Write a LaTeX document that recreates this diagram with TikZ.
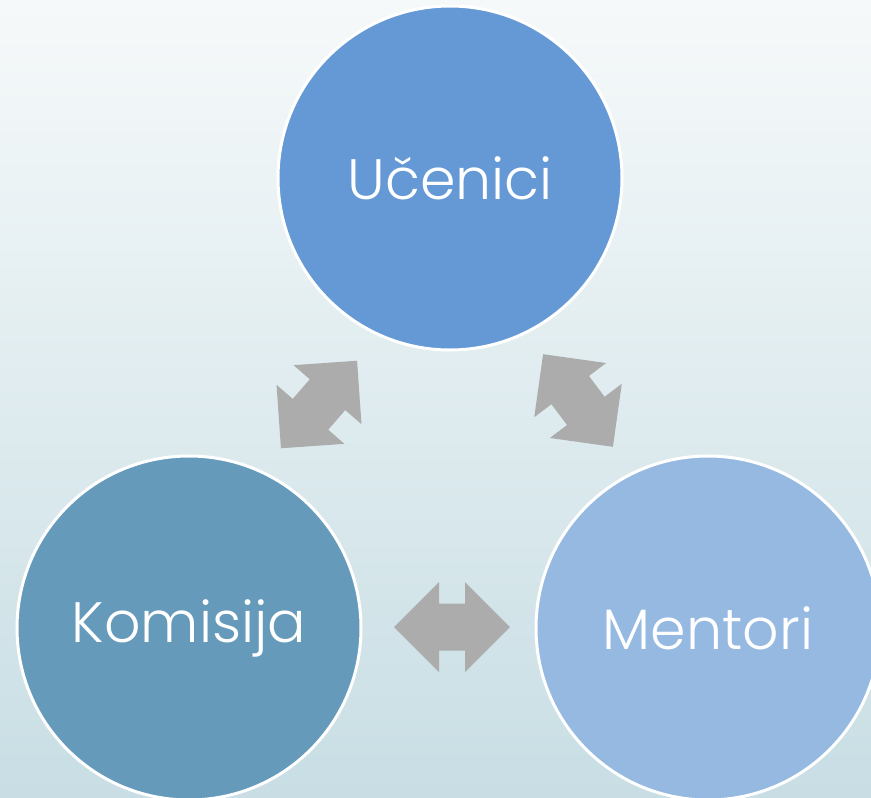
\documentclass[tikz,border=0pt]{standalone}
\usepackage{fontspec}
\newfontfamily\labelfont{Poppins Light}

\definecolor{bgtop}{RGB}{246,249,250}
\definecolor{bgbottom}{RGB}{200,222,228}
\definecolor{ucenicifill}{RGB}{101,153,214}
\definecolor{komisijafill}{RGB}{101,154,187}
\definecolor{mentorifill}{RGB}{150,185,225}
\definecolor{arrowgray}{RGB}{172,172,172}

\tikzset{every picture/.style={line width=0.75pt}}
\tikzset{
  bubble/.style={circle, draw=white, line width=3pt, minimum size=344pt, inner sep=0pt,
    text=white, font=\labelfont\fontsize{57}{57}\selectfont},
  dblarrow/.pic={
    \fill[arrowgray] (-58,0) -- (-13,-45) -- (-13,-23.5) -- (13,-23.5) -- (13,-45) -- (58,0)
      -- (13,45) -- (13,23.5) -- (-13,23.5) -- (-13,45) -- cycle ;
  }
}

\begin{document}
\begin{tikzpicture}[x=1pt,y=1pt,yscale=-1,xscale=1]
        % Background
        \shade [top color=bgtop, bottom color=bgbottom] (0,0) rectangle (871,798) ;
        \useasboundingbox (0,0) rectangle (871,798) ;

        % Circles
        \node [bubble, fill=ucenicifill] (ucenici) at (450,178) {Učenici};
        \node [bubble, fill=komisijafill] (komisija) at (189,628) {Komisija};
        \node [bubble, fill=mentorifill] (mentori) at (708,628) {Mentori};

        % Block arrows
        \pic [rotate=49] at (319,404.5) {dblarrow};
        \pic [rotate=-53] at (578,400.5) {dblarrow};
        \pic at (452,627) {dblarrow};
    \end{tikzpicture}
\end{document}
